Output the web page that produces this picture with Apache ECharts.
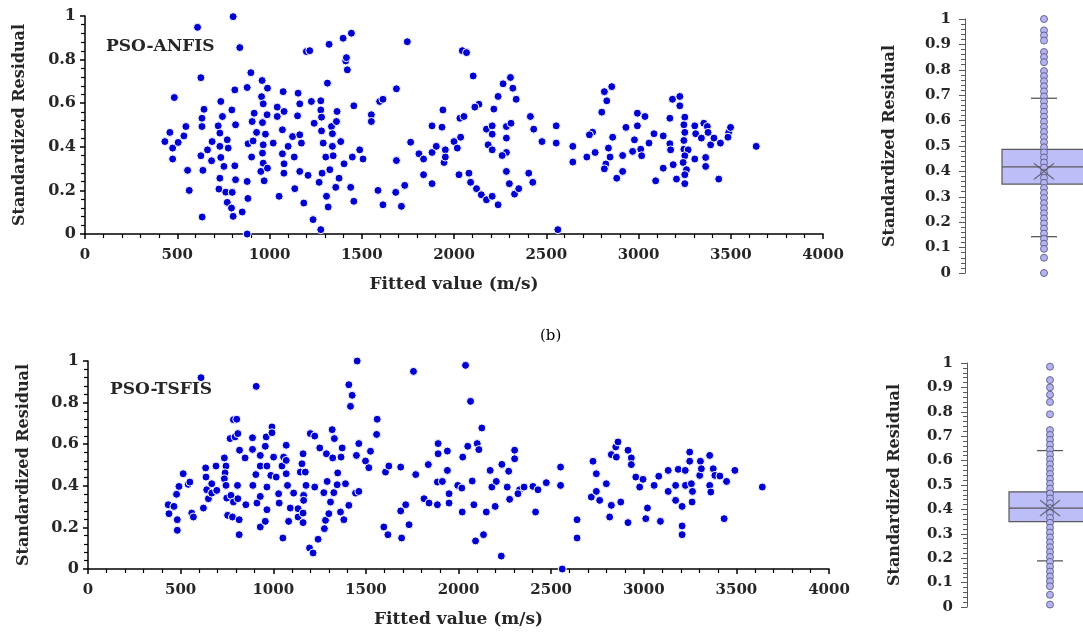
<!DOCTYPE html>
<html>
<head>
<meta charset="utf-8">
<script src="https://cdn.jsdelivr.net/npm/echarts@6/dist/echarts.min.js"></script>
<style>
  html, body { margin: 0; padding: 0; background: #fff; }
  #main { width: 1083px; height: 633px; }
</style>
</head>
<body>
<div id="main"></div>
<script>
// PSO-ANFIS: fitted value vs standardized residual
const anfisFitted = [433, 460, 484, 475, 505, 475, 536, 547, 556, 565, 610, 628, 635, 634, 645, 634, 628, 639, 664, 686,
  689, 722, 736, 745, 731, 731, 736, 731, 726, 753, 771, 776, 763, 771, 794, 803, 803, 796, 812, 816,
  812, 816, 798, 839, 852, 879, 884, 879, 883, 879, 899, 906, 903, 917, 930, 911, 957, 960, 966, 962,
  966, 962, 966, 953, 971, 989, 987, 978, 989, 1020, 1042, 1042, 1052, 1070, 1074, 1079, 1070, 1079, 1078, 1101,
  1125, 1134, 1137, 1152, 1155, 1164, 1164, 1173, 1164, 1186, 1200, 1218, 1209, 1227, 1242, 1236, 1269, 1278, 1278, 1278,
  1282, 1282, 1285, 1291, 1305, 1309, 1318, 1323, 1314, 1327, 1336, 1341, 1341, 1345, 1366, 1363, 1359, 1377, 1386, 1399,
  1404, 1413, 1417, 1422, 1444, 1440, 1449, 1457, 1457, 1489, 1507, 1552, 1552, 1588, 1597, 1615, 1615, 1688, 1684, 1688,
  1715, 1733, 1747, 1765, 1810, 1835, 1835, 1881, 1881, 1881, 1904, 1935, 1940, 1953, 1946, 1953,
  2000, 2018, 2036, 2032, 2054, 2045, 2068, 2104, 2027, 2081, 2090, 2122, 2135, 2113, 2148, 2176, 2207, 2239, 2176, 2207,
  2207, 2185, 2207, 2216, 2239, 2266, 2306, 2319, 2337, 2284, 2309, 2284, 2284, 2261, 2284, 2300, 2328, 2351, 2414, 2432,
  2477, 2405, 2427, 2554, 2554, 2563, 2644, 2644, 2720, 2751, 2765, 2734, 2801, 2815, 2855, 2828, 2860, 2837, 2846, 2823,
  2815, 2882, 2914, 2914, 2932, 2994, 3035, 2994, 2978, 2968, 3012, 3017, 3057, 3084, 3134, 3093, 3134, 3170, 3170, 3174,
  3188, 3206, 3184, 3224, 3224, 3251, 3246, 3251, 3246, 3246, 3269, 3251, 3242, 3260, 3251, 3251, 3305, 3310, 3305, 3341,
  3354, 3373, 3377, 3364, 3364, 3391, 3409, 3444, 3435, 3489, 3499, 3485, 3638];
const anfisResidual = [0.424, 0.466, 0.626, 0.394, 0.42, 0.344, 0.45, 0.493, 0.292, 0.2, 0.948, 0.717, 0.078, 0.531, 0.572, 0.493, 0.359, 0.292, 0.386, 0.336,
  0.424, 0.496, 0.608, 0.539, 0.463, 0.402, 0.351, 0.256, 0.206, 0.31, 0.432, 0.394, 0.192, 0.145, 0.119, 0.081, 0.997, 0.569, 0.661, 0.501,
  0.313, 0.249, 0.191, 0.855, 0.101, 0.672, 0.414, 0.241, 0.163, 0.0, 0.74, 0.516, 0.353, 0.554, 0.466, 0.427, 0.63, 0.704, 0.597, 0.511,
  0.409, 0.371, 0.325, 0.287, 0.244, 0.669, 0.547, 0.458, 0.302, 0.417, 0.582, 0.539, 0.173, 0.478, 0.653, 0.562, 0.368, 0.322, 0.279, 0.402,
  0.447, 0.353, 0.208, 0.542, 0.646, 0.597, 0.455, 0.417, 0.287, 0.142, 0.837, 0.841, 0.269, 0.608, 0.508, 0.066, 0.237, 0.02, 0.611, 0.569,
  0.536, 0.473, 0.279, 0.417, 0.353, 0.173, 0.124, 0.87, 0.692, 0.295, 0.493, 0.46, 0.402, 0.359, 0.562, 0.516, 0.214, 0.256, 0.424, 0.898,
  0.322, 0.794, 0.809, 0.753, 0.921, 0.214, 0.353, 0.588, 0.15, 0.386, 0.344, 0.547, 0.516, 0.2, 0.608, 0.618, 0.134, 0.337, 0.191, 0.666,
  0.127, 0.223, 0.882, 0.421, 0.368, 0.344, 0.272, 0.496, 0.374, 0.231, 0.402, 0.49, 0.569, 0.386, 0.328, 0.353,
  0.424, 0.394, 0.444, 0.531, 0.539, 0.841, 0.832, 0.725, 0.272, 0.279, 0.237, 0.208, 0.595, 0.582, 0.18, 0.157, 0.173, 0.134, 0.481, 0.496,
  0.458, 0.409, 0.386, 0.573, 0.631, 0.689, 0.718, 0.669, 0.618, 0.493, 0.508, 0.44, 0.374, 0.36, 0.287, 0.231, 0.183, 0.208, 0.539, 0.481,
  0.424, 0.279, 0.237, 0.496, 0.417, 0.02, 0.402, 0.33, 0.353, 0.467, 0.374, 0.455, 0.559, 0.653, 0.676, 0.611, 0.444, 0.394, 0.353, 0.321,
  0.299, 0.256, 0.287, 0.36, 0.489, 0.554, 0.539, 0.496, 0.432, 0.379, 0.389, 0.359, 0.417, 0.46, 0.45, 0.244, 0.302, 0.531, 0.414, 0.386,
  0.318, 0.252, 0.618, 0.631, 0.588, 0.536, 0.501, 0.466, 0.429, 0.389, 0.386, 0.359, 0.328, 0.295, 0.272, 0.231, 0.496, 0.46, 0.344, 0.44,
  0.508, 0.493, 0.466, 0.351, 0.31, 0.409, 0.44, 0.417, 0.252, 0.466, 0.489, 0.444, 0.402];

// PSO-TSFIS: fitted value vs standardized residual
const tsfisFitted = [433, 437, 464, 478, 482, 482, 491, 514, 541, 550, 560, 569, 610, 623, 635, 637, 641, 650, 668, 668,
  691, 695, 736, 745, 740, 736, 745, 749, 754, 772, 767, 785, 794, 803, 780, 785, 809, 818, 807, 809,
  816, 816, 848, 852, 888, 888, 890, 908, 906, 912, 930, 930, 930, 930, 957, 962, 966, 966, 966, 957,
  987, 993, 993, 1002, 1016, 1029, 1032, 1052, 1056, 1047, 1070, 1070, 1070, 1077, 1083, 1092, 1110, 1134, 1134, 1146,
  1155, 1161, 1164, 1164, 1161, 1161, 1177, 1173, 1196, 1215, 1200, 1224, 1224, 1242, 1251, 1273, 1276, 1282, 1287, 1291,
  1300, 1309, 1318, 1321, 1330, 1327, 1348, 1345, 1363, 1366, 1372, 1381, 1390, 1408, 1408, 1426, 1417, 1453, 1449, 1462,
  1444, 1462, 1498, 1516, 1525, 1561, 1558, 1597, 1606, 1619, 1624, 1688, 1688, 1693, 1715, 1733, 1757, 1769, 1814, 1837,
  1841, 1886, 1886, 1890, 1890, 1913, 1940, 1940, 1949, 1949,
  1996, 2018, 2020, 2023, 2038, 2050, 2065, 2074, 2083, 2092, 2101, 2110, 2126, 2135, 2150, 2171, 2180, 2198, 2204, 2231,
  2234, 2263, 2276, 2271, 2303, 2303, 2330, 2321, 2354, 2402, 2416, 2429, 2474, 2551, 2551, 2560, 2640, 2640, 2717, 2726,
  2744, 2744, 2762, 2798, 2816, 2825, 2825, 2852, 2849, 2861, 2876, 2915, 2915, 2933, 2933, 2957, 2978, 2996, 3011, 3020,
  3056, 3081, 3090, 3132, 3132, 3172, 3172, 3186, 3207, 3207, 3207, 3224, 3225, 3248, 3248, 3257, 3261, 3263, 3302, 3306,
  3311, 3356, 3356, 3362, 3375, 3384, 3411, 3434, 3447, 3492, 3640];
const tsfisResidual = [0.309, 0.266, 0.301, 0.359, 0.237, 0.186, 0.397, 0.458, 0.407, 0.418, 0.269, 0.25, 0.92, 0.293, 0.486, 0.442, 0.381, 0.338, 0.41, 0.365,
  0.495, 0.378, 0.534, 0.495, 0.462, 0.434, 0.402, 0.341, 0.258, 0.354, 0.627, 0.718, 0.635, 0.72, 0.25, 0.322, 0.651, 0.571, 0.402, 0.338,
  0.237, 0.165, 0.534, 0.309, 0.631, 0.575, 0.402, 0.878, 0.454, 0.317, 0.546, 0.495, 0.349, 0.202, 0.59, 0.635, 0.495, 0.394, 0.285, 0.229,
  0.45, 0.683, 0.655, 0.538, 0.442, 0.362, 0.317, 0.149, 0.538, 0.495, 0.595, 0.522, 0.458, 0.402, 0.229, 0.293, 0.365, 0.25, 0.29, 0.466,
  0.506, 0.554, 0.354, 0.33, 0.269, 0.223, 0.402, 0.466, 0.101, 0.077, 0.651, 0.639, 0.394, 0.143, 0.582, 0.367, 0.194, 0.234, 0.554, 0.421,
  0.266, 0.322, 0.67, 0.534, 0.627, 0.367, 0.462, 0.405, 0.274, 0.538, 0.582, 0.237, 0.41, 0.306, 0.886, 0.835, 0.782, 1.0, 0.546, 0.603,
  0.365, 0.373, 0.519, 0.487, 0.566, 0.72, 0.647, 0.202, 0.466, 0.165, 0.495, 0.49, 0.279, 0.149, 0.309, 0.213, 0.95, 0.454, 0.338, 0.502,
  0.317, 0.309, 0.418, 0.554, 0.603, 0.421, 0.567, 0.474, 0.362, 0.317,
  0.402, 0.389, 0.274, 0.538, 0.979, 0.59, 0.806, 0.423, 0.309, 0.135, 0.603, 0.574, 0.678, 0.165, 0.274, 0.474, 0.394, 0.301, 0.421, 0.062,
  0.503, 0.394, 0.335, 0.47, 0.571, 0.53, 0.381, 0.362, 0.394, 0.397, 0.274, 0.381, 0.415, 0.49, 0.402, 0.0, 0.237, 0.149, 0.346, 0.518,
  0.458, 0.373, 0.33, 0.41, 0.25, 0.306, 0.55, 0.538, 0.587, 0.611, 0.322, 0.223, 0.571, 0.534, 0.502, 0.442, 0.394, 0.431, 0.242, 0.293,
  0.402, 0.446, 0.229, 0.474, 0.373, 0.402, 0.33, 0.479, 0.301, 0.207, 0.165, 0.474, 0.402, 0.562, 0.518, 0.41, 0.322, 0.373, 0.45, 0.518,
  0.482, 0.546, 0.402, 0.37, 0.482, 0.45, 0.447, 0.242, 0.421, 0.474, 0.394];

// box plots: [lower whisker, Q1, median, Q3, upper whisker]
const anfisBox = [0.143, 0.35, 0.418, 0.487, 0.688];
const anfisMean = [0.40];
const anfisDots = [1.0, 0.955, 0.935, 0.915, 0.87, 0.85, 0.83, 0.795, 0.775, 0.755, 0.735, 0.715, 0.695, 0.675, 0.655,
  0.635, 0.615, 0.595, 0.575, 0.555, 0.535, 0.515, 0.495, 0.475, 0.455, 0.435, 0.415, 0.395, 0.375, 0.355,
  0.335, 0.315, 0.295, 0.275, 0.255, 0.235, 0.215, 0.195, 0.175, 0.155, 0.135, 0.115, 0.095, 0.06, 0.0];

const tsfisBox = [0.189, 0.35, 0.405, 0.472, 0.641];
const tsfisMean = [0.405];
const tsfisDots = [0.985, 0.93, 0.9, 0.87, 0.84, 0.79, 0.725, 0.705, 0.685, 0.665, 0.645, 0.625, 0.605, 0.585, 0.565,
  0.545, 0.525, 0.505, 0.485, 0.465, 0.445, 0.425, 0.405, 0.385, 0.365, 0.345, 0.325, 0.305, 0.285, 0.265,
  0.245, 0.225, 0.205, 0.185, 0.165, 0.145, 0.125, 0.105, 0.085, 0.05, 0.01];

const boxCategory = ['r'];
const xTicks = { min: 0, max: 4000, interval: 500 };

const FONT = 'DejaVu Serif';
const INK = '#262626';

const chart = echarts.init(document.getElementById('main'), null, { renderer: 'canvas' });

function zip(xs, ys) {
  return xs.map((x, i) => [x, ys[i]]);
}

function scatterX(gridIndex) {
  return {
    type: 'value', gridIndex: gridIndex,
    min: xTicks.min, max: xTicks.max, interval: xTicks.interval,
    name: 'Fitted value (m/s)', nameLocation: 'middle', nameGap: 42,
    nameTextStyle: { fontFamily: FONT, fontWeight: 'bold', fontSize: 17, color: INK },
    axisLine: { lineStyle: { color: '#000', width: 1.5 } },
    axisTick: { length: 5, lineStyle: { color: '#000', width: 1.5 } },
    minorTick: { show: true, splitNumber: 5, length: 4, lineStyle: { color: '#000', width: 1.2 } },
    splitLine: { show: false },
    axisLabel: { fontFamily: FONT, fontWeight: 'bold', fontSize: 15, color: INK, margin: 14,
      formatter: v => String(v) }
  };
}

function scatterY(gridIndex, gap) {
  return {
    type: 'value', gridIndex: gridIndex,
    min: 0, max: 1, interval: 0.2,
    name: 'Standardized Residual', nameLocation: 'middle', nameGap: gap,
    nameTextStyle: { fontFamily: FONT, fontWeight: 'bold', fontSize: 16, color: INK },
    axisLine: { show: true, lineStyle: { color: '#000', width: 1.5 } },
    axisTick: { show: true, length: 5, lineStyle: { color: '#000', width: 1.5 } },
    minorTick: { show: true, splitNumber: 5, length: 4, lineStyle: { color: '#000', width: 1.2 } },
    splitLine: { show: false },
    axisLabel: { fontFamily: FONT, fontWeight: 'bold', fontSize: 16, color: INK, margin: 9 }
  };
}

function boxX(gridIndex) {
  return {
    type: 'category', gridIndex: gridIndex, data: boxCategory,
    axisLine: { show: false }, axisTick: { show: false }, axisLabel: { show: false },
    splitLine: { show: false }
  };
}

// the box grid is centred on the box; the axis is pushed left with offset
function boxY(gridIndex, gap, offset) {
  return {
    type: 'value', gridIndex: gridIndex, offset: offset,
    min: 0, max: 1, interval: 0.1,
    name: 'Standardized Residual', nameLocation: 'middle', nameGap: gap,
    nameTextStyle: { fontFamily: FONT, fontWeight: 'bold', fontSize: 16, color: INK },
    axisLine: { show: true, lineStyle: { color: '#595959', width: 1 } },
    axisTick: { show: true, length: 6, lineStyle: { color: '#595959' } },
    minorTick: { show: true, splitNumber: 5, length: 4, lineStyle: { color: '#595959' } },
    splitLine: { show: false },
    axisLabel: { fontFamily: FONT, fontWeight: 'bold', fontSize: 15, color: INK, margin: 14 }
  };
}

function scatterSeries(idx, xs, ys) {
  return {
    type: 'scatter', xAxisIndex: idx, yAxisIndex: idx,
    data: zip(xs, ys), symbolSize: 8, silent: true,
    itemStyle: { color: '#0000D0', borderColor: '#fff', borderWidth: 1, opacity: 1 }
  };
}

function boxSeries(idx, stats, mean, dots, width) {
  return [
    { // box (quartiles and median only)
      type: 'boxplot', xAxisIndex: idx, yAxisIndex: idx, silent: true,
      boxWidth: [width, width],
      data: [[stats[1], stats[1], stats[2], stats[3], stats[3]]],
      itemStyle: { color: '#BDBDF8', borderColor: '#595959', borderWidth: 1.2 }
    },
    { // whisker caps
      type: 'scatter', xAxisIndex: idx, yAxisIndex: idx, silent: true,
      data: [[boxCategory[0], stats[0]], [boxCategory[0], stats[4]]],
      symbol: 'rect', symbolSize: [26, 1.3],
      itemStyle: { color: '#595959', opacity: 1 }
    },
    { // individual points
      type: 'scatter', xAxisIndex: idx, yAxisIndex: idx, silent: true,
      data: dots.map(v => [boxCategory[0], v]), symbolSize: 7,
      itemStyle: { color: '#B4B4F2', borderColor: '#5A5A86', borderWidth: 0.9, opacity: 1 }
    },
    { // mean marker
      type: 'scatter', xAxisIndex: idx, yAxisIndex: idx, silent: true,
      data: mean.map(v => [boxCategory[0], v]),
      symbol: 'path://M0,0L10,10M10,0L0,10', symbolSize: [20, 16],
      itemStyle: { color: 'none', borderColor: '#505050', borderWidth: 1.2 }
    }
  ];
}

const option = {
  backgroundColor: '#fff',
  animation: false,
  grid: [
    { left: 85, top: 16, width: 738, height: 218 },
    { left: 88, top: 361, width: 741, height: 208 },
    { left: 1005, top: 19, width: 78, height: 254 },
    { left: 1017, top: 363, width: 66, height: 244 }
  ],
  xAxis: [scatterX(0), scatterX(1), boxX(2), boxX(3)],
  yAxis: [scatterY(0, 57), scatterY(1, 56), boxY(2, 67, 40), boxY(3, 64, 50)],
  graphic: [
    { type: 'text', left: 106, top: 38, style: { text: 'PSO-ANFIS', font: 'bold 17px "DejaVu Serif"', fill: INK } },
    { type: 'text', left: 110, top: 381, style: { text: 'PSO-TSFIS', font: 'bold 17px "DejaVu Serif"', fill: INK } },
    { type: 'text', left: 540, top: 329, style: { text: '(b)', font: '15px "DejaVu Serif"', fill: '#000' } }
  ],
  series: [
    scatterSeries(0, anfisFitted, anfisResidual),
    scatterSeries(1, tsfisFitted, tsfisResidual),
    ...boxSeries(2, anfisBox, anfisMean, anfisDots, 84),
    ...boxSeries(3, tsfisBox, tsfisMean, tsfisDots, 82)
  ]
};

chart.setOption(option);
</script>
</body>
</html>
